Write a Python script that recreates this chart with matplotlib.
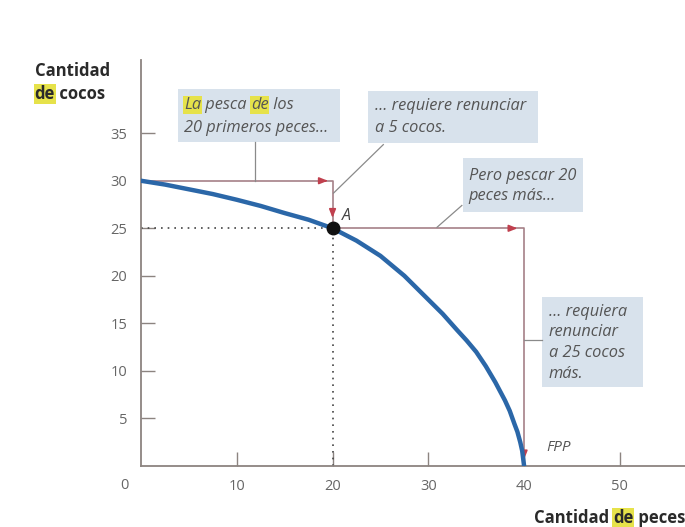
import matplotlib.pyplot as plt
from matplotlib.patches import Rectangle

plt.rcParams['font.family'] = ['Open Sans', 'DejaVu Sans']

# frontera de posibilidades de produccion
peces = [0, 2.5, 5, 7.5, 10, 12.5, 15, 17.5, 20, 22.5, 25, 27.5, 30, 31.5,
         33, 34, 35, 36, 37, 38, 38.5, 39, 39.3, 39.6, 39.8, 40]
cocos = [30, 29.6, 29.1, 28.6, 28.0, 27.35, 26.6, 25.9, 25.0, 23.7, 22.1, 20.0, 17.5, 16.0,
         14.3, 13.2, 12.0, 10.5, 8.8, 6.9, 5.8, 4.4, 3.6, 2.5, 1.6, 0]

punto_a = (20, 25)
x_ticks = [10, 20, 30, 40, 50]
y_ticks = [5, 10, 15, 20, 25, 30, 35]

BLUE = '#2b67a8'
ARROW = '#a58088'
HEAD = '#c0404e'
GREY = '#666666'
BOX = '#d8e2ec'
HL = '#e6e24a'

fig = plt.figure(figsize=(6.85, 5.27), dpi=100)
ax = fig.add_axes([141 / 685, 61 / 527, 544 / 685, 406 / 527])
ax.set_xlim(0, 56.8)
ax.set_ylim(0, 42.7)

for s in ['top', 'right']:
    ax.spines[s].set_visible(False)
for s in ['left', 'bottom']:
    ax.spines[s].set_color('#8c8480')
    ax.spines[s].set_linewidth(1.3)

ax.set_xticks(x_ticks)
ax.set_yticks(y_ticks)
ax.tick_params(axis='both', direction='in', length=10, width=1, color='#8c8480',
               labelcolor=GREY, labelsize=10.5)
ax.tick_params(axis='x', pad=9)
ax.tick_params(axis='y', pad=10)
ax.text(-1.7, -2.0, '0', color=GREY, fontsize=10.5, ha='center', va='center', clip_on=False)

# lineas punteadas hacia A
ax.plot([0, punto_a[0]], [punto_a[1], punto_a[1]], ls=(0, (1, 3)), color='#444444', lw=1.2)
ax.plot([punto_a[0], punto_a[0]], [0, punto_a[1]], ls=(0, (1, 3)), color='#444444', lw=1.2)

# flechas
ax.plot([0, 20, 20], [30, 30, 25.4], color=ARROW, lw=1.2)
ax.plot([20, 40, 40], [25, 25, 0], color=ARROW, lw=1.2)
heads = [((18.8, 30), (19.8, 30)), ((20, 27.0), (20, 25.8)),
         ((38.5, 25), (39.6, 25)), ((40, 1.6), (40, 0.4))]
for start, end in heads:
    ax.annotate('', xy=end, xytext=start,
                arrowprops=dict(arrowstyle='-|>,head_length=0.5,head_width=0.2',
                                color=HEAD, lw=1.2))

# curva
ax.plot(peces, cocos, color=BLUE, lw=3.2, solid_capstyle='round', zorder=4)
ax.plot([punto_a[0]], [punto_a[1]], 'o', color='#111111', ms=9, zorder=5)
ax.text(21.0, 26.3, 'A', style='italic', color='#444444', fontsize=11.5, va='center')
ax.text(42.3, 1.9, 'FPP', style='italic', color='#555555', fontsize=11, va='center')

# cajas de texto
boxes = [(3.9, 34.1, 16.9, 5.5), (23.7, 34.0, 17.7, 5.4),
         (33.6, 26.7, 12.6, 5.7), (41.9, 8.3, 10.5, 9.5)]
for bx, by, bw, bh in boxes:
    ax.add_patch(Rectangle((bx, by), bw, bh, fc=BOX, ec='none', zorder=1))

# lineas guia
guides = [([11.9, 11.9], [34.1, 30]), ([25.3, 20.1], [33.8, 28.7]),
          ([33.5, 30.9], [27.4, 25.1]), ([40.0, 41.9], [13.2, 13.2])]
for gx, gy in guides:
    ax.plot(gx, gy, color='#8a8a8a', lw=0.9)


def chain(x, y, parts, **kw):
    t = None
    for s, hl in parts:
        bb = dict(boxstyle='square,pad=0.05', fc=HL, ec='none') if hl else None
        if t is None:
            t = ax.text(x, y, s, va='center', ha='left', bbox=bb, clip_on=False, **kw)
        else:
            t = ax.annotate(s, xy=(1, 0), xycoords=t, va='bottom', ha='left',
                            bbox=bb, annotation_clip=False, **kw)
    return t


note = dict(style='italic', color='#555555', fontsize=11.8, zorder=3)
chain(4.5, 38.0, [('La', True), (' pesca ', False), ('de', True), (' los', False)], **note)
chain(4.5, 35.6, [('20 primeros peces...', False)], **note)
chain(24.4, 37.9, [('... requiere renunciar', False)], **note)
chain(24.4, 35.6, [('a 5 cocos.', False)], **note)
chain(34.2, 30.5, [('Pero pescar 20', False)], **note)
chain(34.2, 28.4, [('peces más...', False)], **note)
for yy, s in zip([16.2, 14.1, 11.9, 9.7], ['... requiera', 'renunciar', 'a 25 cocos', 'más.']):
    chain(42.6, yy, [(s, False)], **note)

# titulos de ejes
lab = dict(fontweight='bold', color='#2a2a2a', fontsize=12)
chain(-11.1, 41.5, [('Cantidad', False)], **lab)
chain(-11.1, 39.1, [('de', True), (' cocos', False)], **lab)
chain(41.0, -5.5, [('Cantidad ', False), ('de', True), (' peces', False)], **lab)

fig.savefig('out.png', dpi=100)
